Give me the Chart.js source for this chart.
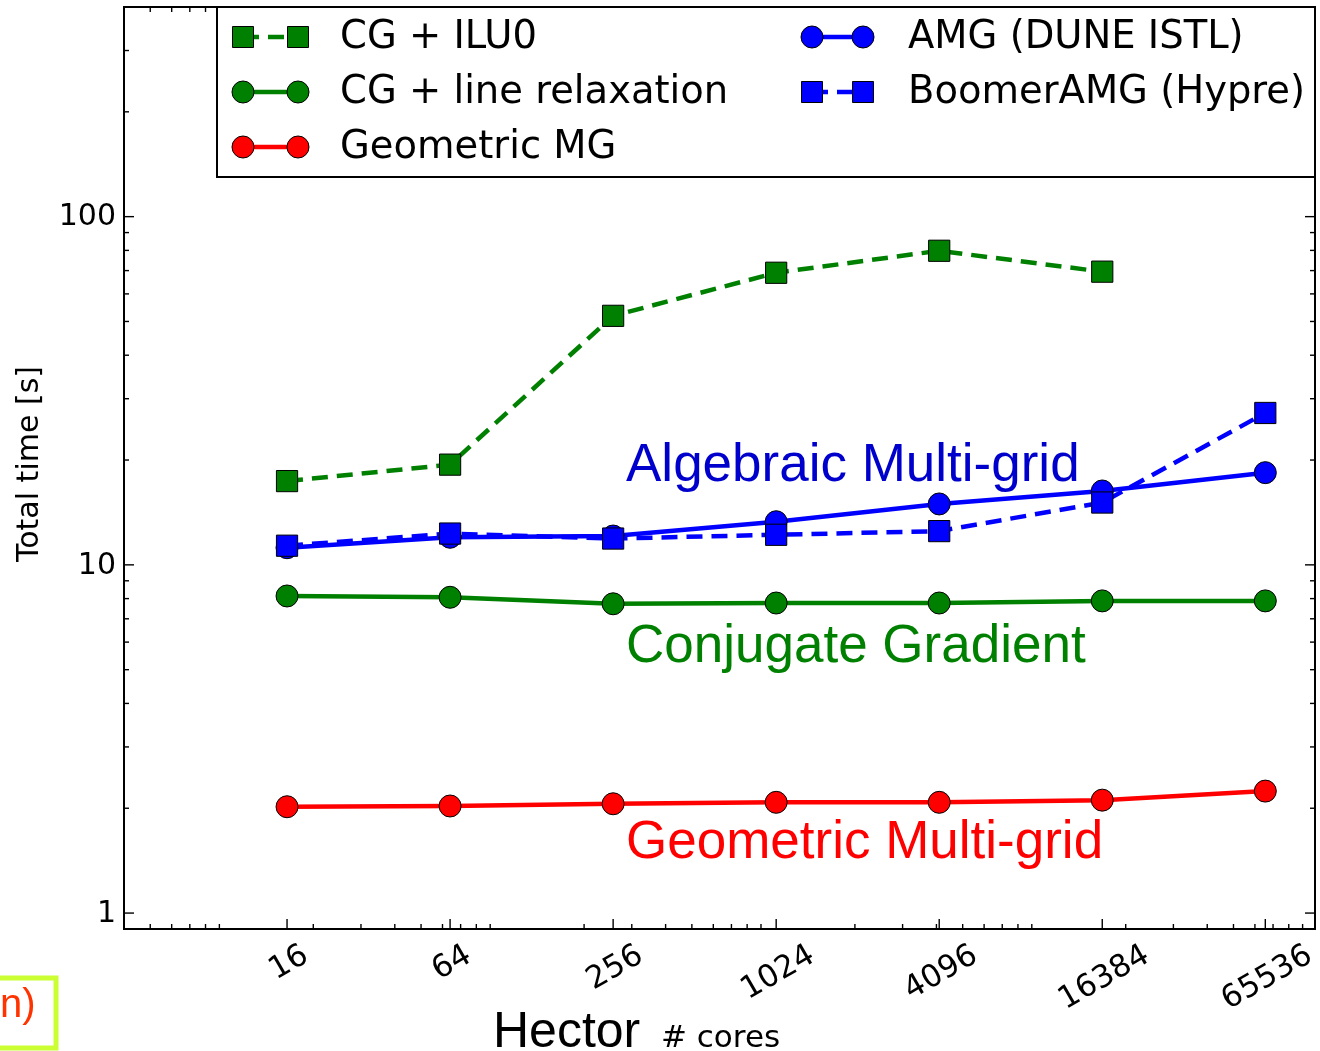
<!DOCTYPE html>
<html>
<head>
<meta charset="utf-8">
<title>Hector - total time vs cores</title>
<script src="https://cdn.jsdelivr.net/npm/chart.js@4.4.0/dist/chart.umd.min.js"></script>
<style>
  html, body { margin: 0; padding: 0; background: #fff; }
  #chart { display: block; }
</style>
</head>
<body>
<canvas id="chart" width="1320" height="1051"></canvas>
<script>
// ================== DATA ==================
const cores = [16, 64, 256, 1024, 4096, 16384, 65536];
const cgIlu0 = [17.4, 19.4, 51.9, 69, 79.8, 69.5, null];
const cgLine = [8.14, 8.07, 7.73, 7.77, 7.77, 7.88, 7.88];
const geoMG = [2.02, 2.03, 2.06, 2.08, 2.08, 2.11, 2.24];
const amgDune = [11.2, 12.0, 12.1, 13.3, 14.96, 16.3, 18.4];
const boomerAmg = [11.35, 12.3, 11.9, 12.2, 12.5, 15.1, 27.3];

const seriesLabels = ["CG + ILU0", "CG + line relaxation", "Geometric MG", "AMG (DUNE ISTL)", "BoomerAMG (Hypre)"];
const yTickLabels = [1, 10, 100];
const xTickLabels = ["16", "64", "256", "1024", "4096", "16384", "65536"];

// ================== STYLE ==================
const GREEN = "#008000";
const BLUE = "#0000ff";
const RED = "#ff0000";
const DEJAVU = '"DejaVu Sans", sans-serif';
const ARIAL = '"Liberation Sans", Arial, sans-serif';

function pts(values) {
  return cores.map((c, i) => ({ x: c, y: values[i] }));
}

function series(label, values, color, style, dashed, order) {
  return {
    label,
    data: pts(values),
    borderColor: color,
    backgroundColor: color,
    borderWidth: 4.5,
    borderDash: dashed ? [16, 9] : [],
    pointStyle: style,
    pointRadius: style === "rect" ? 15 : 11,
    pointHoverRadius: style === "rect" ? 15 : 11,
    pointBorderColor: "#000",
    pointBorderWidth: 1,
    pointBackgroundColor: color,
    tension: 0,
    spanGaps: false,
    order,
  };
}

const datasets = [
  series(seriesLabels[0], cgIlu0, GREEN, "rect", true, 5),
  series(seriesLabels[1], cgLine, GREEN, "circle", false, 4),
  series(seriesLabels[2], geoMG, RED, "circle", false, 3),
  series(seriesLabels[3], amgDune, BLUE, "circle", false, 2),
  series(seriesLabels[4], boomerAmg, BLUE, "rect", true, 1),
];

// ================== HELPERS ==================
function minorValues(min, max) {
  const out = [];
  for (let e = Math.floor(Math.log10(min)); e <= Math.ceil(Math.log10(max)); e++) {
    for (let m = 2; m <= 9; m++) {
      const v = m * Math.pow(10, e);
      if (v >= min && v <= max) out.push(v);
    }
  }
  return out;
}

function marker(ctx, style, x, y, color) {
  ctx.save();
  ctx.setLineDash([]);
  ctx.fillStyle = color;
  ctx.strokeStyle = "#000";
  ctx.lineWidth = 1;
  ctx.beginPath();
  if (style === "rect") {
    ctx.rect(x - 10.5, y - 10.5, 21, 21);
  } else {
    ctx.arc(x, y, 11, 0, Math.PI * 2);
  }
  ctx.fill();
  ctx.stroke();
  ctx.restore();
}

// ================== FRAME / TEXT PLUGIN ==================
const framePlugin = {
  id: "frame",
  beforeDraw(chart) {
    const ctx = chart.ctx;
    ctx.save();
    ctx.fillStyle = "#fff";
    ctx.fillRect(0, 0, chart.width, chart.height);
    ctx.restore();
  },
  afterDatasetsDraw(chart) {
    const ctx = chart.ctx;
    const { left, right, top, bottom } = chart.chartArea;
    const xs = chart.scales.x;
    const ys = chart.scales.y;

    ctx.save();
    ctx.strokeStyle = "#000";
    ctx.fillStyle = "#000";

    // ticks (inward, all four sides)
    ctx.lineWidth = 1.4;
    const tick = (x1, y1, x2, y2) => {
      ctx.beginPath();
      ctx.moveTo(x1, y1);
      ctx.lineTo(x2, y2);
      ctx.stroke();
    };
    minorValues(xs.min, xs.max).forEach((v) => {
      const px = xs.getPixelForValue(v);
      tick(px, bottom, px, bottom - 5);
      tick(px, top, px, top + 5);
    });
    cores.forEach((v) => {
      const px = xs.getPixelForValue(v);
      tick(px, bottom, px, bottom - 10);
      tick(px, top, px, top + 10);
    });
    minorValues(ys.min, ys.max).forEach((v) => {
      const py = ys.getPixelForValue(v);
      tick(left, py, left + 5, py);
      tick(right, py, right - 5, py);
    });
    yTickLabels.forEach((v) => {
      const py = ys.getPixelForValue(v);
      tick(left, py, left + 10, py);
      tick(right, py, right - 10, py);
    });

    // spines
    ctx.lineWidth = 2;
    ctx.strokeRect(left, top, right - left, bottom - top);

    // y tick labels
    ctx.font = "30px " + DEJAVU;
    ctx.textAlign = "right";
    ctx.textBaseline = "middle";
    yTickLabels.forEach((v) => {
      ctx.fillText(String(v), left - 8, ys.getPixelForValue(v) + 1);
    });

    // x tick labels, rotated 30deg, bbox centred under tick
    ctx.font = "31px " + DEJAVU;
    const rot = (30 * Math.PI) / 180;
    const h = 31;
    xTickLabels.forEach((lab, i) => {
      const w = ctx.measureText(lab).width;
      const bh = w * Math.sin(rot) + h * Math.cos(rot);
      const cx = xs.getPixelForValue(cores[i]) + 2;
      const cy = bottom + 11 + bh / 2;
      ctx.save();
      ctx.translate(cx, cy);
      ctx.rotate(-rot);
      ctx.textAlign = "center";
      ctx.textBaseline = "middle";
      ctx.fillText(lab, 0, 0);
      ctx.restore();
    });

    // y axis title
    ctx.save();
    ctx.translate(30, 464);
    ctx.rotate(-Math.PI / 2);
    ctx.textAlign = "center";
    ctx.textBaseline = "middle";
    ctx.font = "30px " + DEJAVU;
    ctx.fillText("Total time [s]", 0, 0);
    ctx.restore();

    // x axis title
    ctx.textAlign = "left";
    ctx.textBaseline = "alphabetic";
    ctx.font = "50px " + ARIAL;
    ctx.fillText("Hector", 493, 1047);
    ctx.font = "31px " + DEJAVU;
    ctx.fillText("# cores", 661, 1047);

    // annotations
    ctx.font = "53px " + ARIAL;
    ctx.fillStyle = "#0000cc";
    ctx.fillText("Algebraic Multi-grid", 626, 481);
    ctx.fillStyle = GREEN;
    ctx.fillText("Conjugate Gradient", 626, 662);
    ctx.fillStyle = RED;
    ctx.fillText("Geometric Multi-grid", 626, 858);

    // cropped slide label, bottom left
    ctx.strokeStyle = "#ccff33";
    ctx.lineWidth = 5;
    ctx.strokeRect(-10, 978, 66, 70);
    ctx.fillStyle = "#ff3300";
    ctx.font = "40px " + ARIAL;
    ctx.fillText("n)", 0, 1017);

    // legend
    const lx = 217, ly = top, lw = right - 217, lh = 170;
    ctx.fillStyle = "#fff";
    ctx.fillRect(lx, ly, lw, lh);
    ctx.strokeStyle = "#000";
    ctx.lineWidth = 2;
    ctx.strokeRect(lx, ly, lw, lh);

    const rows = [37, 92, 147];
    const cols = [
      { m1: 243, m2: 298, tx: 340 },
      { m1: 812, m2: 863, tx: 908 },
    ];
    ctx.font = "38.5px " + DEJAVU;
    ctx.textBaseline = "middle";
    ctx.textAlign = "left";
    chart.data.datasets.forEach((ds, i) => {
      const col = cols[i < 3 ? 0 : 1];
      const y = rows[i < 3 ? i : i - 3];
      ctx.save();
      ctx.strokeStyle = ds.borderColor;
      ctx.lineWidth = 4.5;
      ctx.setLineDash(ds.borderDash);
      ctx.beginPath();
      ctx.moveTo(col.m1, y);
      ctx.lineTo(col.m2, y);
      ctx.stroke();
      ctx.restore();
      marker(ctx, ds.pointStyle, col.m1, y, ds.backgroundColor);
      marker(ctx, ds.pointStyle, col.m2, y, ds.backgroundColor);
      ctx.fillStyle = "#000";
      ctx.fillText(ds.label, col.tx, y + 1);
    });

    ctx.restore();
  },
};

// ================== CHART ==================
new Chart(document.getElementById("chart"), {
  type: "line",
  data: { datasets },
  options: {
    responsive: false,
    animation: false,
    devicePixelRatio: 1,
    layout: { autoPadding: false, padding: { left: 124, right: 5, top: 7, bottom: 122 } },
    plugins: {
      legend: { display: false },
      tooltip: { enabled: false },
    },
    scales: {
      x: { type: "logarithmic", min: 4, max: 100000, display: false },
      y: { type: "logarithmic", min: 0.9, max: 400, display: false },
    },
  },
  plugins: [framePlugin],
});
</script>
</body>
</html>
